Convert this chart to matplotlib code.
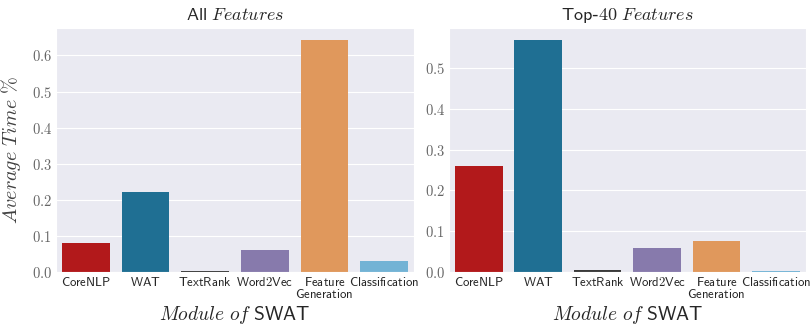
import numpy as np
import matplotlib
matplotlib.use('Agg')
import matplotlib.pyplot as plt
import seaborn as sns

#%% Data

modules = ['CoreNLP', 'WAT', 'TextRank', 'Word2Vec', 'Feature\nGeneration', 'Classification']
time_all = [0.081, 0.222, 0.003, 0.061, 0.644, 0.030]      # All Features
time_top40 = [0.259, 0.570, 0.005, 0.059, 0.076, 0.003]    # Top-40 Features
bar_colors = ['#b2191b', '#1f6f93', '#3b3b3b', '#877aac', '#e0985c', '#73b3d5']

#%% Plot

sns.set_style('darkgrid')
plt.rcParams['mathtext.fontset'] = 'cm'
plt.rcParams['font.family'] = ['DejaVu Sans']


def sf(s):
    # sans labels in computer modern sans, one mathtext chunk per line
    return '\n'.join(r'$\mathsf{' + line.replace(' ', r'\ ') + '}$' for line in s.split('\n'))


fig = plt.figure(figsize=(8.1, 3.29), dpi=100)
ax1 = fig.add_axes([0.0691, 0.1733, 0.442, 0.7416])
ax2 = fig.add_axes([0.5543, 0.1733, 0.4405, 0.7416])

panels = [(ax1, time_all, r'$\mathsf{All}\ Features$', [0.0, 0.1, 0.2, 0.3, 0.4, 0.5, 0.6]),
          (ax2, time_top40, r'$\mathsf{Top}$-$\mathsf{40}\ Features$', [0.0, 0.1, 0.2, 0.3, 0.4, 0.5])]

for ax, vals, title, yt in panels:
    x = np.arange(len(modules))
    ax.bar(x, vals, width=0.8, color=bar_colors, linewidth=0)
    ax.set_xlim(-0.5, len(modules) - 0.5)
    ax.set_ylim(0, max(vals) * 1.05)
    ax.set_xticks(x)
    ax.set_xticklabels([sf(m) for m in modules], fontsize=9.2, color='0.15', linespacing=0.9)
    ax.set_yticks(yt)
    ax.set_yticklabels([f'${v:.1f}$' for v in yt], fontsize=10.5, color='0.4')
    ax.tick_params(axis='both', length=0, pad=3)
    ax.grid(axis='x', visible=False)
    ax.set_title(title, fontsize=13, color='0.15', pad=6)
    ax.set_xlabel(r'$Module\ of\ \mathsf{SWAT}$', fontsize=14, color='0.15', labelpad=2)

ax1.set_ylabel(r'$Average\ Time\ \%$', fontsize=14.5, color='0.25', labelpad=6)

fig.savefig('out.png', dpi=100)
